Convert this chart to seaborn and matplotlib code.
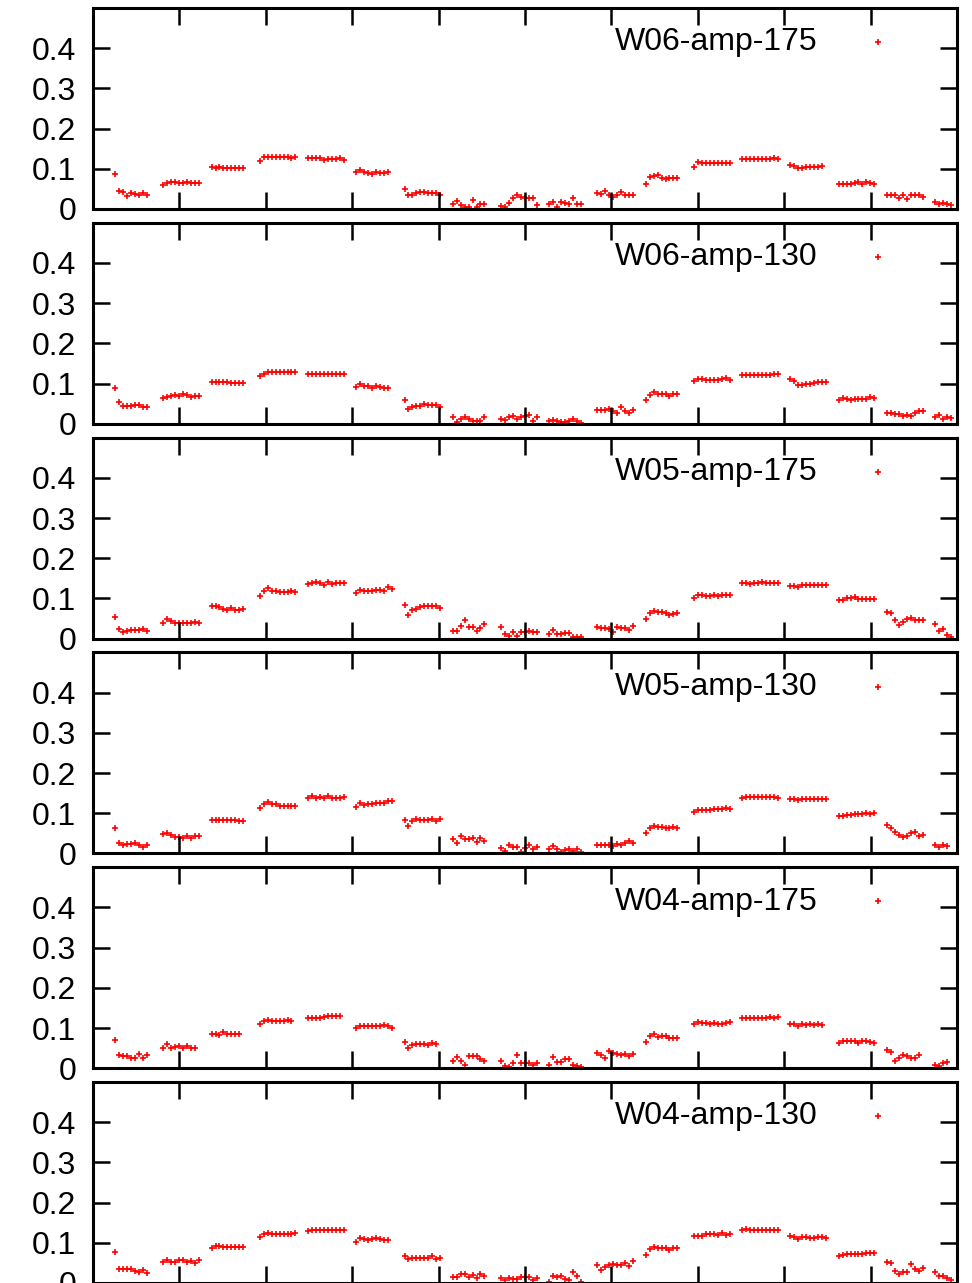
import matplotlib
matplotlib.use("Agg")
import matplotlib.pyplot as plt
import pandas as pd
import seaborn as sns

TickFontSize = 23
LegendFontSize = 23

labels = ["W06-amp-175", "W06-amp-130", "W05-amp-175",
          "W05-amp-130", "W04-amp-175", "W04-amp-130"]

# each inner list is one scan group; groups start every 20.1 deg, points 1.65 deg apart
w06_175 = [
    [0.088, 0.046, 0.043, 0.032, 0.039, 0.037, 0.035, 0.039, 0.034],
    [0.059, 0.065, 0.066, 0.067, 0.065, 0.065, 0.067, 0.065, 0.065, 0.064],
    [0.104, 0.103, 0.105, 0.101, 0.101, 0.101, 0.102, 0.103, 0.103],
    [0.120, 0.129, 0.130, 0.130, 0.129, 0.129, 0.130, 0.129, 0.127, 0.130],
    [0.126, 0.126, 0.126, 0.126, 0.123, 0.125, 0.125, 0.125, 0.126, 0.123],
    [0.093, 0.097, 0.092, 0.090, 0.087, 0.091, 0.089, 0.090, 0.091],
    [0.049, 0.036, 0.036, 0.040, 0.043, 0.043, 0.040, 0.039, 0.039, 0.036],
    [0.012, 0.020, 0.010, 0.006, 0.005, 0.022, 0.006, 0.013, 0.013],
    [0.008, 0.006, 0.016, 0.027, 0.034, 0.030, 0.028, 0.028, 0.028, 0.009],
    [0.013, 0.018, 0.006, 0.018, 0.015, 0.013, 0.028, 0.013, 0.013],
    [0.041, 0.038, 0.045, 0.034, 0.030, 0.036, 0.042, 0.034, 0.034, 0.034],
    [0.063, 0.080, 0.082, 0.084, 0.076, 0.075, 0.078, 0.078, 0.078],
    [0.105, 0.117, 0.114, 0.114, 0.114, 0.114, 0.114, 0.114, 0.114, 0.114],
    [0.124, 0.124, 0.124, 0.124, 0.124, 0.124, 0.125, 0.125, 0.127, 0.124],
    [0.109, 0.107, 0.101, 0.101, 0.104, 0.104, 0.105, 0.105, 0.106],
    [0.063, 0.063, 0.063, 0.063, 0.064, 0.067, 0.061, 0.066, 0.064, 0.062],
    [0.035, 0.035, 0.036, 0.028, 0.034, 0.026, 0.035, 0.035, 0.034, 0.029],
    [0.018, 0.012, 0.014, 0.012, 0.010],
]

w06_130 = [
    [0.088, 0.053, 0.045, 0.045, 0.045, 0.046, 0.046, 0.043, 0.043],
    [0.063, 0.066, 0.070, 0.072, 0.068, 0.074, 0.072, 0.066, 0.070, 0.070],
    [0.104, 0.104, 0.104, 0.104, 0.104, 0.101, 0.101, 0.101, 0.101],
    [0.119, 0.125, 0.128, 0.129, 0.129, 0.129, 0.128, 0.129, 0.129, 0.129],
    [0.124, 0.124, 0.124, 0.124, 0.123, 0.124, 0.124, 0.124, 0.124, 0.124],
    [0.092, 0.098, 0.095, 0.093, 0.090, 0.094, 0.092, 0.090, 0.090],
    [0.059, 0.038, 0.041, 0.045, 0.045, 0.049, 0.046, 0.046, 0.046, 0.041],
    [0.016, 0.005, 0.012, 0.017, 0.012, 0.007, 0.007, 0.007, 0.016],
    [0.013, 0.010, 0.016, 0.020, 0.012, 0.017, 0.020, 0.022, 0.007, 0.017],
    [0.007, 0.010, 0.006, 0.004, 0.004, 0.007, 0.013, 0.006, 0.003],
    [0.035, 0.035, 0.034, 0.037, 0.032, 0.028, 0.042, 0.031, 0.027, 0.035],
    [0.060, 0.072, 0.080, 0.075, 0.075, 0.075, 0.070, 0.074, 0.074],
    [0.107, 0.111, 0.111, 0.109, 0.109, 0.109, 0.110, 0.111, 0.114, 0.108],
    [0.122, 0.122, 0.122, 0.121, 0.122, 0.122, 0.122, 0.122, 0.123, 0.123],
    [0.111, 0.107, 0.097, 0.097, 0.099, 0.099, 0.101, 0.103, 0.104, 0.103],
    [0.060, 0.063, 0.061, 0.059, 0.061, 0.061, 0.061, 0.061, 0.066, 0.064],
    [0.028, 0.028, 0.024, 0.024, 0.020, 0.022, 0.020, 0.027, 0.032, 0.032],
    [0.018, 0.022, 0.013, 0.016, 0.014],
]

w05_175 = [
    [0.053, 0.024, 0.017, 0.020, 0.022, 0.022, 0.022, 0.024, 0.020],
    [0.039, 0.049, 0.043, 0.038, 0.038, 0.038, 0.039, 0.039, 0.042, 0.039],
    [0.080, 0.080, 0.078, 0.074, 0.071, 0.075, 0.071, 0.071, 0.073],
    [0.105, 0.119, 0.126, 0.118, 0.119, 0.115, 0.115, 0.115, 0.118, 0.115],
    [0.136, 0.138, 0.140, 0.138, 0.134, 0.140, 0.136, 0.138, 0.138, 0.138],
    [0.114, 0.122, 0.118, 0.118, 0.118, 0.121, 0.121, 0.118, 0.128, 0.124],
    [0.084, 0.059, 0.071, 0.074, 0.078, 0.080, 0.082, 0.081, 0.081, 0.076],
    [0.018, 0.018, 0.031, 0.046, 0.028, 0.028, 0.018, 0.027, 0.036],
    [0.028, 0.012, 0.006, 0.017, 0.007, 0.016, 0.017, 0.020, 0.016, 0.017],
    [0.012, 0.022, 0.012, 0.012, 0.013, 0.013, 0.005, 0.005, 0.005],
    [0.028, 0.027, 0.027, 0.024, 0.017, 0.028, 0.026, 0.027, 0.022, 0.031],
    [0.049, 0.064, 0.068, 0.066, 0.067, 0.063, 0.059, 0.060, 0.063],
    [0.101, 0.109, 0.109, 0.107, 0.107, 0.109, 0.107, 0.109, 0.109, 0.109],
    [0.138, 0.138, 0.136, 0.138, 0.138, 0.140, 0.138, 0.138, 0.138, 0.138],
    [0.132, 0.132, 0.128, 0.134, 0.134, 0.134, 0.134, 0.134, 0.134, 0.134],
    [0.096, 0.096, 0.100, 0.100, 0.103, 0.099, 0.099, 0.099, 0.099, 0.099],
    [0.066, 0.063, 0.046, 0.035, 0.042, 0.049, 0.051, 0.046, 0.046, 0.046],
    [0.036, 0.020, 0.024, 0.009, 0.005],
]

w05_130 = [
    [0.064, 0.027, 0.022, 0.024, 0.024, 0.027, 0.022, 0.017, 0.022],
    [0.049, 0.051, 0.045, 0.041, 0.041, 0.039, 0.043, 0.038, 0.043, 0.043],
    [0.084, 0.084, 0.084, 0.084, 0.083, 0.083, 0.082, 0.081, 0.081],
    [0.113, 0.124, 0.128, 0.122, 0.122, 0.118, 0.119, 0.119, 0.119, 0.119],
    [0.138, 0.142, 0.138, 0.140, 0.137, 0.142, 0.138, 0.138, 0.138, 0.140],
    [0.115, 0.125, 0.121, 0.122, 0.124, 0.126, 0.126, 0.126, 0.130, 0.130],
    [0.084, 0.068, 0.080, 0.085, 0.084, 0.084, 0.084, 0.085, 0.080, 0.085],
    [0.035, 0.027, 0.043, 0.035, 0.035, 0.039, 0.028, 0.038, 0.032],
    [0.014, 0.006, 0.022, 0.016, 0.017, 0.003, 0.014, 0.020, 0.012, 0.016],
    [0.010, 0.018, 0.012, 0.004, 0.008, 0.012, 0.006, 0.010, 0.004],
    [0.020, 0.022, 0.020, 0.022, 0.018, 0.024, 0.020, 0.026, 0.030, 0.026],
    [0.050, 0.064, 0.068, 0.066, 0.066, 0.062, 0.064, 0.066, 0.064],
    [0.104, 0.108, 0.108, 0.109, 0.109, 0.110, 0.110, 0.110, 0.112, 0.110],
    [0.138, 0.140, 0.140, 0.141, 0.141, 0.141, 0.140, 0.140, 0.140, 0.139],
    [0.135, 0.135, 0.132, 0.135, 0.136, 0.135, 0.135, 0.135, 0.135, 0.136],
    [0.094, 0.094, 0.096, 0.096, 0.099, 0.098, 0.098, 0.100, 0.098, 0.101],
    [0.070, 0.062, 0.052, 0.045, 0.042, 0.044, 0.050, 0.054, 0.044, 0.045],
    [0.020, 0.016, 0.020, 0.018],
]

w04_175 = [
    [0.071, 0.032, 0.031, 0.030, 0.026, 0.026, 0.035, 0.026, 0.032],
    [0.051, 0.059, 0.051, 0.053, 0.055, 0.051, 0.056, 0.051, 0.051],
    [0.085, 0.085, 0.083, 0.089, 0.086, 0.085, 0.085, 0.085],
    [0.111, 0.118, 0.119, 0.117, 0.118, 0.118, 0.117, 0.121, 0.118],
    [0.125, 0.125, 0.125, 0.126, 0.128, 0.129, 0.129, 0.129, 0.129],
    [0.100, 0.104, 0.104, 0.104, 0.104, 0.104, 0.105, 0.107, 0.104, 0.100],
    [0.066, 0.051, 0.057, 0.061, 0.061, 0.060, 0.057, 0.063, 0.060],
    [0.017, 0.027, 0.018, 0.009, 0.031, 0.031, 0.031, 0.024, 0.017],
    [0.017, 0.006, 0.003, 0.013, 0.032, 0.013, 0.013, 0.012, 0.009, 0.014],
    [0.009, 0.027, 0.016, 0.016, 0.022, 0.022, 0.009, 0.006, 0.003],
    [0.038, 0.034, 0.026, 0.042, 0.038, 0.036, 0.032, 0.036, 0.031, 0.035],
    [0.066, 0.080, 0.085, 0.078, 0.080, 0.080, 0.075, 0.074, 0.074],
    [0.109, 0.114, 0.113, 0.113, 0.111, 0.113, 0.111, 0.111, 0.113, 0.114],
    [0.125, 0.125, 0.125, 0.124, 0.124, 0.124, 0.125, 0.128, 0.125, 0.128],
    [0.109, 0.111, 0.104, 0.109, 0.107, 0.109, 0.107, 0.109, 0.107],
    [0.063, 0.068, 0.067, 0.067, 0.067, 0.063, 0.068, 0.068, 0.066, 0.063],
    [0.046, 0.041, 0.017, 0.026, 0.034, 0.030, 0.026, 0.026, 0.034],
    [0.009, 0.006, 0.012, 0.016],
]

w04_130 = [
    [0.076, 0.036, 0.035, 0.035, 0.035, 0.031, 0.028, 0.032, 0.026],
    [0.053, 0.056, 0.053, 0.051, 0.057, 0.057, 0.051, 0.055, 0.049, 0.056],
    [0.088, 0.092, 0.092, 0.089, 0.089, 0.089, 0.089, 0.089, 0.089],
    [0.114, 0.122, 0.124, 0.121, 0.122, 0.122, 0.122, 0.122, 0.122, 0.124],
    [0.129, 0.132, 0.132, 0.132, 0.131, 0.133, 0.132, 0.131, 0.133, 0.133],
    [0.103, 0.111, 0.109, 0.107, 0.109, 0.111, 0.109, 0.107, 0.107],
    [0.067, 0.059, 0.063, 0.063, 0.063, 0.063, 0.063, 0.067, 0.059, 0.063],
    [0.016, 0.016, 0.022, 0.022, 0.014, 0.020, 0.013, 0.022, 0.017],
    [0.013, 0.007, 0.012, 0.010, 0.010, 0.016, 0.016, 0.016, 0.007, 0.012],
    [0.003, 0.018, 0.014, 0.018, 0.010, 0.007, 0.028, 0.017, 0.002],
    [0.045, 0.032, 0.041, 0.045, 0.047, 0.045, 0.045, 0.049, 0.043, 0.055],
    [0.070, 0.085, 0.090, 0.088, 0.086, 0.086, 0.082, 0.086, 0.086],
    [0.118, 0.118, 0.117, 0.121, 0.121, 0.121, 0.119, 0.124, 0.119, 0.122],
    [0.132, 0.134, 0.132, 0.132, 0.132, 0.133, 0.132, 0.132, 0.132, 0.133],
    [0.117, 0.114, 0.109, 0.114, 0.114, 0.111, 0.111, 0.114, 0.114, 0.113],
    [0.066, 0.070, 0.071, 0.071, 0.072, 0.072, 0.071, 0.074, 0.074, 0.074],
    [0.053, 0.049, 0.031, 0.022, 0.028, 0.027, 0.047, 0.036, 0.030, 0.038],
    [0.028, 0.017, 0.018, 0.013, 0.008],
]

series = [w06_175, w06_130, w05_175, w05_130, w04_175, w04_130]

group_start = 9.2
group_step = 20.1
point_step = 1.65

ytick_vals = [0, 0.1, 0.2, 0.3, 0.4]
ytick_labels = ["0", "0.1", "0.2", "0.3", "0.4"]
xtick_vals = [36, 72, 108, 144, 180, 216, 252, 288, 324]


def to_frame(groups):
    rows = []
    for g, vals in enumerate(groups):
        for i, v in enumerate(vals):
            rows.append((group_start + g * group_step + i * point_step, v))
    return pd.DataFrame(rows, columns=["angle", "amp"])


plt.rcParams['font.family'] = ['Liberation Sans', 'DejaVu Sans']
plt.rcParams['axes.linewidth'] = 2.2

W, H = 972, 1283
fig = plt.figure(figsize=(W / 100, H / 100), dpi=100)

for k in range(6):
    top_px = 8 + 214.8 * k
    ax = fig.add_axes([93 / W, 1 - (top_px + 201) / H, 864 / W, 201 / H])
    df = to_frame(series[k])
    sns.scatterplot(data=df, x="angle", y="amp", ax=ax, marker="+",
                    color="#ff0000", s=18, linewidth=1.2, label=labels[k])
    ax.set_xlim(0, 360)
    ax.set_ylim(0, 0.5)
    ax.set_xticks(xtick_vals)
    ax.set_yticks(ytick_vals)
    ax.set_yticklabels(ytick_labels)
    ax.set_xticklabels([])
    ax.set_xlabel("")
    ax.set_ylabel("")
    ax.tick_params(direction="in", length=12, width=1.8, top=True, right=True,
                   labelsize=TickFontSize, pad=12)
    for sp in ax.spines.values():
        sp.set_color("black")
    ax.legend(loc="upper right", bbox_to_anchor=(0.927, 0.903), frameon=False,
              markerfirst=False, fontsize=LegendFontSize, handlelength=1.0,
              handletextpad=1.38, borderpad=0, borderaxespad=0, markerscale=1.0)

# bottom panel runs off the lower edge, as in the original figure
plt.savefig("out.png", dpi=100)
